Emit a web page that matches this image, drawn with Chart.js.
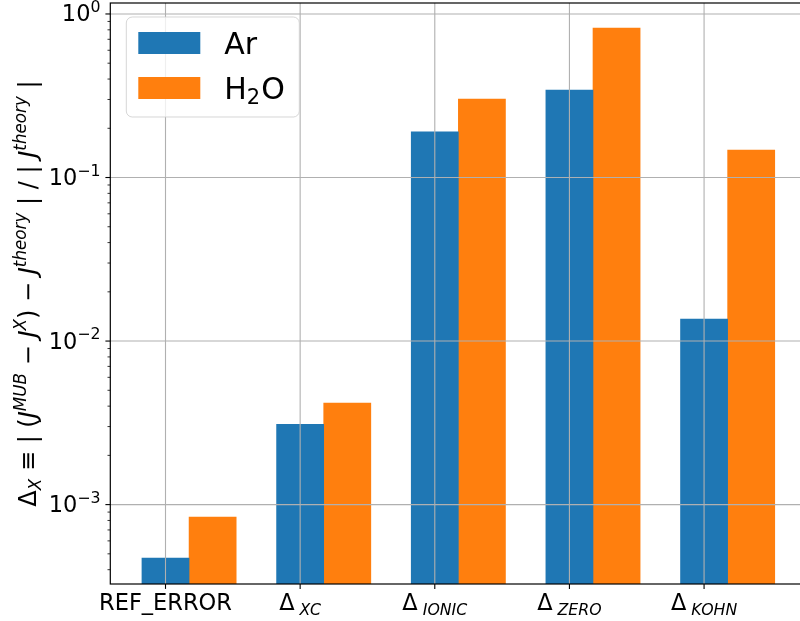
<!DOCTYPE html>
<html><head><meta charset="utf-8">
<script src="https://cdn.jsdelivr.net/npm/chart.js@4.4.1/dist/chart.umd.min.js"></script>
<style>html,body{margin:0;padding:0;overflow:hidden;background:#fff;width:800px;height:621px}canvas{display:block}</style>
</head><body>
<canvas id="c" width="810" height="621"></canvas>
<script>
// ---- data ----
const categories = ['REF_ERROR', 'XC', 'IONIC', 'ZERO', 'KOHN'];
const tickMain = ['REF_ERROR', 'Δ', 'Δ', 'Δ', 'Δ'];
const tickSub = ['', 'XC', 'IONIC', 'ZERO', 'KOHN'];
const arValues = [4.71e-4, 3.10e-3, 0.190, 0.343, 0.01365];
const h2oValues = [8.39e-4, 4.18e-3, 0.302, 0.821, 0.147];
const yTickValues = [1e-3, 1e-2, 1e-1, 1];
const yTickExponents = ['−3', '−2', '−1', '0'];
const seriesNames = ['Ar', 'H2O'];

// ---- style ----
const FAMILY = '"DejaVu Sans", sans-serif';
const BLUE = '#1f77b4', ORANGE = '#ff7f0e';
const BAR_OFFSET = 0.35;
const BAR_W = 47.1;
const S = 22.5, s = 15.75;
const L = 24, l = 16.8;

function font(size, italic) { return (italic ? 'italic ' : '') + size + 'px ' + FAMILY; }
function richWidth(ctx, parts) {
  let w = 0;
  for (const p of parts) { ctx.font = font(p.size, p.italic); p.w = ctx.measureText(p.text).width; w += p.w + (p.pre || 0); }
  return w;
}
function drawRich(ctx, parts, x, y, align) {
  const w = richWidth(ctx, parts);
  let cx = align === 'center' ? x - w / 2 : align === 'right' ? x - w : x;
  ctx.textAlign = 'left'; ctx.textBaseline = 'alphabetic';
  for (const p of parts) {
    cx += p.pre || 0;
    ctx.font = font(p.size, p.italic);
    ctx.fillText(p.text, cx, y + (p.dy || 0));
    cx += p.w;
  }
}
function line(ctx, x1, y1, x2, y2) { ctx.beginPath(); ctx.moveTo(x1, y1); ctx.lineTo(x2, y2); ctx.stroke(); }

const overlay = {
  id: 'overlay',
  afterDatasetsDraw(chart) {
    const ctx = chart.ctx, a = chart.chartArea, xs = chart.scales.x, ys = chart.scales.y;
    ctx.save();
    // grid (drawn above bars)
    ctx.strokeStyle = '#b0b0b0'; ctx.lineWidth = 1.1;
    yTickValues.forEach(v => { const y = ys.getPixelForValue(v); line(ctx, a.left, y, a.right, y); });
    categories.forEach((c, i) => { const x = xs.getPixelForValue(i); line(ctx, x, a.top, x, a.bottom); });

    // legend
    const lx = a.left + 16, ly = a.top + 14, lw = 173, lh = 100;
    ctx.beginPath(); ctx.roundRect(lx, ly, lw, lh, 6);
    ctx.fillStyle = 'rgba(255,255,255,0.8)'; ctx.fill();
    ctx.strokeStyle = 'rgba(204,204,204,0.8)'; ctx.lineWidth = 1; ctx.stroke();
    ctx.fillStyle = BLUE; ctx.fillRect(lx + 12, ly + 15, 62, 22);
    ctx.fillStyle = ORANGE; ctx.fillRect(lx + 12, ly + 60, 62, 22);
    ctx.fillStyle = '#000';
    drawRich(ctx, [{ text: seriesNames[0], size: 30 }], lx + 98, ly + 36.5, 'left');
    drawRich(ctx, [{ text: 'H', size: 30 }, { text: '2', size: 21, dy: 5 }, { text: 'O', size: 30, pre: 1 }], lx + 98, ly + 82, 'left');

    // spines
    ctx.strokeStyle = '#000'; ctx.lineWidth = 1.2;
    ctx.strokeRect(a.left, a.top, a.right - a.left, a.bottom - a.top);

    // y ticks
    const lo = Math.floor(Math.log10(ys.min)), hi = Math.ceil(Math.log10(ys.max));
    for (let k = lo; k <= hi; k++) {
      for (let m = 1; m <= 9; m++) {
        const v = m * Math.pow(10, k);
        if (v < ys.min || v > ys.max) continue;
        const y = ys.getPixelForValue(v);
        ctx.lineWidth = m === 1 ? 1.1 : 0.8;
        line(ctx, a.left - (m === 1 ? 4.9 : 2.8), y, a.left, y);
      }
    }
    yTickValues.forEach((v, i) => {
      const y = ys.getPixelForValue(v);
      drawRich(ctx, [{ text: '10', size: S }, { text: yTickExponents[i], size: s, dy: -9.5 }], a.left - 9.8, y + 7.5, 'right');
    });

    // x ticks
    ctx.lineWidth = 1.1;
    categories.forEach((c, i) => {
      const x = xs.getPixelForValue(i);
      line(ctx, x, a.bottom, x, a.bottom + 4.9);
      const parts = [{ text: tickMain[i], size: S }];
      if (tickSub[i]) parts.push({ text: tickSub[i], size: s, italic: true, dy: 5, pre: 5 });
      drawRich(ctx, parts, x, a.bottom + 26, 'center');
    });

    // y label
    ctx.translate(36, (a.top + a.bottom) / 2);
    ctx.rotate(-Math.PI / 2);
    drawRich(ctx, [
      { text: 'Δ', size: L },
      { text: 'X', size: l, italic: true, dy: 5 },
      { text: ' ≡ | (', size: L },
      { text: 'J', size: L, italic: true },
      { text: 'MUB', size: l, italic: true, dy: -10 },
      { text: ' − ', size: L },
      { text: 'J', size: L, italic: true },
      { text: 'X', size: l, italic: true, dy: -10 },
      { text: ') − ', size: L },
      { text: 'J', size: L, italic: true },
      { text: 'theory', size: l, italic: true, dy: -10 },
      { text: ' | / | ', size: L },
      { text: 'J', size: L, italic: true },
      { text: 'theory', size: l, italic: true, dy: -10 },
      { text: ' |', size: L }
    ], 0, 0, 'center');
    ctx.restore();
  }
};

new Chart(document.getElementById('c'), {
  type: 'bar',
  data: {
    datasets: [
      { label: seriesNames[0], data: arValues.map((v, i) => ({ x: i, y: v })), backgroundColor: BLUE, grouped: false, barThickness: BAR_W },
      { label: seriesNames[1], data: h2oValues.map((v, i) => ({ x: i + BAR_OFFSET, y: v })), backgroundColor: ORANGE, grouped: false, barThickness: BAR_W }
    ]
  },
  options: {
    responsive: false, animation: false,
    layout: { padding: { left: 0, top: 3, right: 3.6, bottom: 0 } },
    plugins: { legend: { display: false }, tooltip: { enabled: false } },
    scales: {
      x: {
        type: 'linear', min: -0.41, max: 4.76, offset: false, bounds: 'data',
        grid: { display: false, offset: false }, border: { display: false }, ticks: { display: false },
        afterBuildTicks(sc) { sc.ticks = categories.map((c, i) => ({ value: i })); },
        afterFit(sc) { sc.height = 37; }
      },
      y: {
        type: 'logarithmic', min: 3.27e-4, max: 1.167, bounds: 'data',
        grid: { display: false }, border: { display: false }, ticks: { display: false },
        afterFit(sc) { sc.width = 110.3; }
      }
    }
  },
  plugins: [overlay]
});
</script>
</body></html>
